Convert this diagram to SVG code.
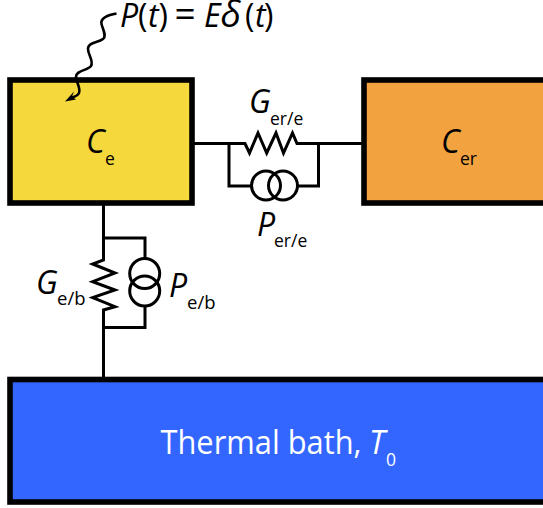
<svg xmlns="http://www.w3.org/2000/svg" width="543" height="508" viewBox="0 0 543 508">
<style>
text{font-family:"Open Sans","Noto Sans","Liberation Sans",sans-serif;fill:#000}
.m{font-size:32px;font-style:italic}
.u{font-size:32px;font-style:normal}
.s{font-size:17.500px}
.sb{font-size:18.500px}
.box{stroke:#000;stroke-width:5.600}
.w{fill:none;stroke:#000;stroke-width:3;stroke-linejoin:miter}
</style>
<rect width="543" height="508" fill="#fff"/>
<g id="node-ce">
<rect class="box" x="10" y="80" width="182" height="123" fill="#f4d83c"/>
<text class="m" x="86" y="153">C</text><text class="s" x="105" y="165">e</text>
</g>
<g id="node-cer">
<rect class="box" x="364" y="80" width="190" height="123" fill="#f2a340"/>
<text class="m" x="441" y="153">C</text><text class="s" x="460" y="165">er</text>
</g>
<g id="node-bath">
<rect class="box" x="10" y="379.500" width="544" height="122.500" fill="#3366ff"/>
<text x="160.500" y="454" font-size="32" textLength="201" lengthAdjust="spacingAndGlyphs" style="fill:#fff">Thermal bath,</text>
<text x="369" y="454" font-size="32" font-style="italic" style="fill:#fff">T</text>
<text x="386" y="466" font-size="17.500" style="fill:#fff">0</text>
</g>
<g id="connectors">
<path class="w" d="M194 143.500H245L249.500 153 258 133 266.700 153 276 133 283.500 153 292.500 133 297 143.500H362M229 143.500V186H251.500M298 186H318.500V143.500"/>
<circle class="w" cx="266" cy="185.500" r="14.500"/>
<circle class="w" cx="283" cy="185.500" r="14.500"/>
<path class="w" d="M103.500 205V260L92.700 264 115 273 92.700 281.700 115 290 92.700 297.700 115 306.700 103.500 310V377M103.500 238H145V258.500M145 306V327.500H103.500"/>
<circle class="w" cx="144.700" cy="273.500" r="15"/>
<circle class="w" cx="144.700" cy="291" r="15"/>
<path d="M116.500 13.500C108 15 100 18 101.500 24C103 30 107 36 103 39C98 43 88 42 88 49C88 55 94 61 91 66C87 71 76 70 76 77C76 82 81 88 79 93C77 97 73 97 70 98" fill="none" stroke="#000" stroke-width="2.600"/>
<path d="M65 101.500L74 91.500 72 96.500 76 99.500Z" fill="#000"/>
</g>
<g id="labels">
<text class="m" y="27"><tspan x="120">P</tspan><tspan class="u" x="138">(</tspan><tspan x="148">t</tspan><tspan class="u" x="158.500">)</tspan><tspan class="u" x="174.500" style="font-size:37px">=</tspan><tspan x="204">E</tspan><tspan x="220.500" style="font-size:37px">δ</tspan><tspan class="u" x="245">(</tspan><tspan x="255">t</tspan><tspan class="u" x="264">)</tspan></text>
<text class="m" x="249" y="113">G</text><text class="s" x="270" y="125">er/e</text>
<text class="m" x="257" y="236">P</text><text class="s" x="274" y="247">er/e</text>
<text class="m" x="36" y="294">G</text><text class="sb" x="57" y="305">e/b</text>
<text class="m" x="169" y="297">P</text><text class="sb" x="187" y="309">e/b</text>
</g>
</svg>
